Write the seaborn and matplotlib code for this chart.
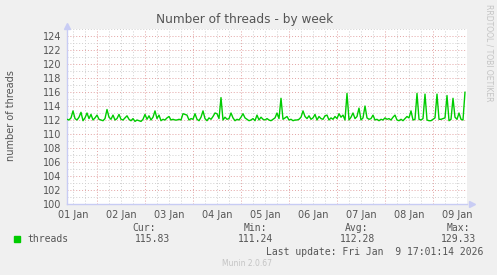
import matplotlib
matplotlib.use("Agg")
import matplotlib.pyplot as plt
import matplotlib.dates as mdates
from matplotlib.ticker import MultipleLocator, FuncFormatter, NullFormatter
from matplotlib.patches import Rectangle
import seaborn as sns
import pandas as pd

# ---- data (hourly averages) ----
values = [
    112.1, 112.0, 112.3, 113.3, 112.2, 112.0, 112.4, 113.1, 111.9, 112.3,
    113.0, 112.2, 112.8, 112.0, 112.3, 112.7, 112.1, 112.0, 111.9, 112.2,
    113.5, 112.4, 112.1, 112.7, 112.0, 112.2, 112.8, 112.1, 112.0, 112.3,
    112.6, 112.1, 111.9, 112.2, 111.8, 112.0, 111.9, 111.8, 112.1, 112.8,
    112.1, 112.6, 112.0, 112.4, 113.3, 112.2, 112.7, 111.9, 112.1, 112.0,
    112.3, 112.5, 112.0, 112.1, 112.0, 112.0, 112.1, 112.0, 112.9, 112.8,
    112.7, 112.0, 112.2, 112.1, 112.9, 112.1, 111.9, 112.4, 113.3, 112.2,
    111.9, 112.3, 112.1, 112.5, 113.0, 112.9, 112.2, 115.2, 112.0, 112.4,
    112.1, 112.2, 113.0, 112.3, 111.9, 112.1, 112.0, 112.4, 112.9, 112.3,
    112.1, 111.9, 112.0, 112.2, 111.9, 112.7, 112.0, 112.4, 112.1, 112.0,
    112.2, 112.0, 111.9, 112.1, 112.3, 113.0, 112.2, 115.1, 112.1, 112.3,
    112.5, 112.0, 112.1, 111.9, 112.0, 112.0, 112.1, 112.4, 113.3, 112.5,
    112.2, 112.6, 112.1, 112.3, 112.8, 112.0, 112.5, 112.2, 112.1, 112.6,
    112.7, 112.0, 112.3, 112.1, 112.5, 112.2, 112.9, 112.4, 112.7, 112.0,
    115.8, 112.0, 112.4, 113.0, 112.2, 112.5, 113.7, 112.0, 112.3, 114.0,
    112.3, 112.1, 112.2, 112.7, 112.0, 112.1, 111.9, 112.1, 112.0, 112.3,
    112.1, 112.2, 112.0, 112.4, 112.7, 112.0, 111.9, 112.1, 111.9, 112.2,
    112.5, 112.3, 113.3, 112.0, 112.1, 115.8, 112.1, 112.0, 112.2, 115.7,
    112.0, 111.9, 111.9, 112.1, 112.3, 115.7, 112.1, 112.1, 112.2, 112.3,
    115.5, 111.9, 112.1, 115.1, 112.4, 112.1, 113.0, 112.1, 112.0, 116.0,
]
start = "2026-01-01 09:00"
end = "2026-01-09 17:00"
series_name = "threads"
stat_labels = ["Cur:", "Min:", "Avg:", "Max:"]
stat_values = ["115.83", "111.24", "112.28", "129.33"]
title = "Number of threads - by week"
ylabel = "number of threads"
last_update = "Last update: Fri Jan  9 17:01:14 2026"
footer = "Munin 2.0.67"
watermark = "RRDTOOL / TOBI OETIKER"

times = pd.date_range(start, periods=len(values), freq="h")
df = pd.DataFrame({"time": times, series_name: values})

sns.set_theme(style="white")
plt.rcParams["font.family"] = ["DejaVu Sans"]

W, H = 497, 275
fig = plt.figure(figsize=(W / 100, H / 100), dpi=100, facecolor="#F0F0F0")
ax = fig.add_axes([67 / W, 1 - 204 / H, 400 / W, 175 / H])
ax.set_facecolor("white")

sns.lineplot(data=df, x="time", y=series_name, ax=ax, color="#00CC00",
             linewidth=1.0, zorder=3)

ax.set_xlim(pd.Timestamp(start), pd.Timestamp(end))
ax.set_ylim(100, 125)

# x grid: midnight red, every 6h grey; labels at noon
ax.xaxis.set_major_locator(mdates.DayLocator())
ax.xaxis.set_major_formatter(NullFormatter())
ax.xaxis.set_minor_locator(mdates.HourLocator(byhour=[6, 12, 18]))


def day_label(x, pos):
    d = mdates.num2date(x)
    return d.strftime("%d %b") if d.hour == 12 else ""


ax.xaxis.set_minor_formatter(FuncFormatter(day_label))
ax.yaxis.set_major_locator(MultipleLocator(2))
ax.yaxis.set_minor_locator(MultipleLocator(1))
ax.yaxis.set_minor_formatter(NullFormatter())

ax.set_axisbelow(True)
ax.grid(which="major", color="#e3a3a3", linestyle=(0, (1, 2)), linewidth=0.7)
ax.grid(which="minor", color="#cfcfcf", linestyle=(0, (1, 2)), linewidth=0.7)

ax.tick_params(which="both", length=0, labelsize=7, labelcolor="#555555")
ax.tick_params(axis="x", which="minor", pad=4)
ax.tick_params(axis="y", pad=4)
ax.set_xlabel("")
ax.set_ylabel("")

for s in ["top", "right"]:
    ax.spines[s].set_visible(False)
for s in ["left", "bottom"]:
    ax.spines[s].set_color("#c8ccf4")
    ax.spines[s].set_linewidth(1.0)
ax.plot([0], [1.02], marker="^", markersize=5, color="#c8ccf4",
        transform=ax.transAxes, clip_on=False)
ax.plot([1.012], [0], marker=">", markersize=5, color="#c8ccf4",
        transform=ax.transAxes, clip_on=False)

# texts
fig.text(245 / W, 1 - 19 / H, title, ha="center", va="center",
         fontsize=8.7, color="#555555")
fig.text(11 / W, 1 - 116 / H, ylabel, ha="center", va="center",
         rotation=90, fontsize=7, color="#555555")
fig.text(489 / W, 1 - 53 / H, watermark, ha="center", va="center",
         rotation=-90, fontsize=5.5, color="#c4c4c4")

mono = "DejaVu Sans Mono"
fig.patches.append(Rectangle((14 / W, 1 - 242 / H), 6 / W, 6 / H,
                             transform=fig.transFigure, color="#00CC00"))
fig.text(27 / W, 1 - 239 / H, series_name, ha="left", va="center",
         fontsize=7, family=mono, color="#555555")
value_right = [170, 273, 375, 476]
label_right = [156, 267, 368, 470]
for lab, val, vr, lr in zip(stat_labels, stat_values, value_right, label_right):
    fig.text(lr / W, 1 - 228 / H, lab, ha="right", va="center",
             fontsize=7, family=mono, color="#555555")
    fig.text(vr / W, 1 - 239 / H, val, ha="right", va="center",
             fontsize=7, family=mono, color="#555555")
fig.text(483 / W, 1 - 252 / H, last_update, ha="right", va="center",
         fontsize=7, family=mono, color="#555555")
fig.text(247 / W, 1 - 264 / H, footer, ha="center", va="center",
         fontsize=5.5, color="#c4c4c4")

fig.savefig("out.png", dpi=100, facecolor=fig.get_facecolor())
